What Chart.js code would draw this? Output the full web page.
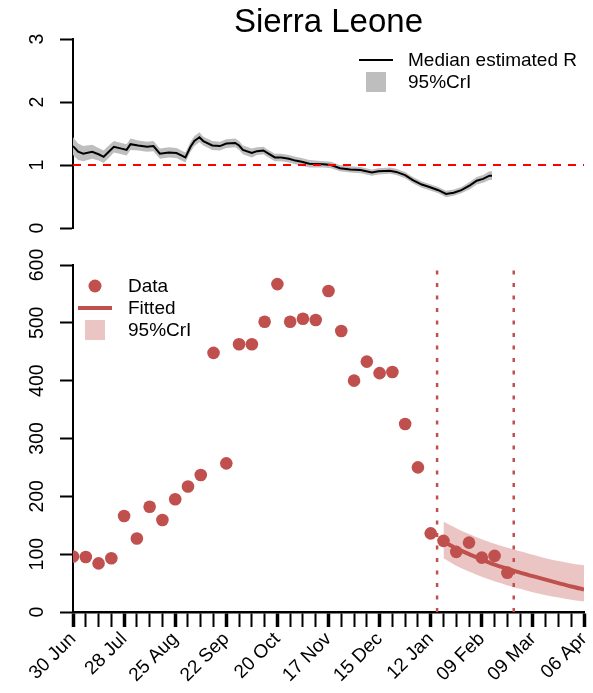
<!DOCTYPE html>
<html>
<head>
<meta charset="utf-8">
<title>Sierra Leone</title>
<script src="https://cdn.jsdelivr.net/npm/chart.js"></script>
<style>
  body { margin: 0; background: #fff; }
  .wrap { position: relative; width: 593px; height: 693px; }
  .wrap canvas { position: absolute; left: 0; }
  #rChart { top: 0; }
  #caseChart { top: 240px; }
</style>
</head>
<body>
<div class="wrap">
  <canvas id="rChart" width="593" height="240"></canvas>
  <canvas id="caseChart" width="593" height="453"></canvas>
</div>
<script>
const chartTitle = 'Sierra Leone';
// one label every 4 weeks, weeks counted from 30 Jun
const weekLabels = ['30 Jun', '28 Jul', '25 Aug', '22 Sep', '20 Oct', '17 Nov', '15 Dec', '12 Jan', '09 Feb', '09 Mar', '06 Apr'];

// estimated R (x in weeks)
const rWeeks = [0.0, 0.4, 0.8, 1.5, 2.0, 2.4, 2.8, 3.2, 3.8, 4.2, 4.5, 5.1, 5.8, 6.3, 6.8, 7.5, 8.1, 8.4, 8.8, 9.2,
  9.5, 9.9, 10.2, 10.9, 11.5, 12.0, 12.7, 13.0, 13.3, 14.0, 14.4, 14.9, 15.3, 15.8, 16.3, 16.9, 17.4, 17.9, 18.5, 19.6,
  20.2, 20.9, 21.7, 22.5, 23.4, 23.9, 24.8, 25.3, 26.0, 26.6, 27.3, 27.9, 28.6, 29.2, 29.8, 30.4, 31.1, 31.6, 32.1, 32.6, 32.8];
const rMedian = [1.30, 1.21, 1.18, 1.21, 1.17, 1.13, 1.21, 1.29, 1.26, 1.24, 1.33, 1.31, 1.29, 1.30, 1.18, 1.20, 1.19, 1.16, 1.12, 1.29,
  1.38, 1.44, 1.38, 1.31, 1.30, 1.34, 1.35, 1.31, 1.24, 1.19, 1.22, 1.23, 1.18, 1.12, 1.12, 1.10, 1.07, 1.05, 1.02, 1.01,
  1.00, 0.95, 0.93, 0.92, 0.88, 0.90, 0.91, 0.89, 0.84, 0.76, 0.69, 0.65, 0.60, 0.54, 0.56, 0.60, 0.68, 0.75, 0.78, 0.83, 0.83];
const rUpper = [1.44, 1.34, 1.30, 1.32, 1.27, 1.23, 1.31, 1.38, 1.35, 1.33, 1.42, 1.39, 1.37, 1.38, 1.26, 1.28, 1.27, 1.24, 1.20, 1.37,
  1.46, 1.52, 1.45, 1.38, 1.37, 1.41, 1.42, 1.38, 1.31, 1.26, 1.28, 1.29, 1.24, 1.18, 1.18, 1.16, 1.13, 1.11, 1.08, 1.06,
  1.05, 1.00, 0.98, 0.97, 0.93, 0.95, 0.96, 0.94, 0.89, 0.81, 0.74, 0.70, 0.65, 0.59, 0.61, 0.65, 0.74, 0.81, 0.84, 0.90, 0.90];
const rLower = [1.16, 1.08, 1.06, 1.10, 1.07, 1.03, 1.11, 1.20, 1.17, 1.15, 1.24, 1.23, 1.21, 1.22, 1.10, 1.12, 1.11, 1.08, 1.04, 1.21,
  1.30, 1.36, 1.31, 1.24, 1.23, 1.27, 1.28, 1.24, 1.17, 1.12, 1.16, 1.17, 1.12, 1.06, 1.06, 1.04, 1.01, 0.99, 0.96, 0.96,
  0.95, 0.90, 0.88, 0.87, 0.83, 0.85, 0.86, 0.84, 0.79, 0.71, 0.64, 0.60, 0.55, 0.49, 0.51, 0.55, 0.62, 0.69, 0.72, 0.76, 0.76];
const rThreshold = [1, 1];

// weekly case counts
const caseWeeks = [0, 1, 2, 3, 4, 5, 6, 7, 8, 9, 10, 11, 12, 13, 14, 15, 16, 17, 18, 19, 20, 21, 22, 23, 24, 25, 26, 27, 28, 29, 30, 31, 32, 33, 34];
const caseCounts = [96, 95, 84, 93, 166, 127, 182, 159, 195, 217, 237, 448, 257, 463, 463, 502, 567, 502, 507, 505,
  555, 486, 400, 433, 413, 415, 325, 250, 136, 123, 104, 120, 94, 97, 68];

// projection
const fitWeeks = [29, 30, 31, 32, 33, 34, 35, 36, 37, 38, 39, 40];
const fitMedian = [122, 110, 100, 91, 82, 75, 68, 62, 56, 50, 44, 39];
const fitUpper = [156, 145, 135, 126, 118, 111, 105, 99, 93, 88, 84, 81];
const fitLower = [93, 80, 70, 61, 53, 46, 40, 34, 29, 25, 21, 18];

// dotted markers
const markerWeeks = [28.5, 34.5];
const markerRange = [0, 600];

const FONT = '"Liberation Sans", Arial, sans-serif';
const RED = '#C0504D';

const xy = (xs, ys) => xs.map((x, i) => ({ x: x, y: ys[i] }));

// rotated y tick labels, legend, title
const decor = {
  id: 'decor',
  afterDraw(chart, args, opts) {
    const ctx = chart.ctx;
    const ys = chart.scales.y;
    ctx.save();
    ctx.fillStyle = '#000';
    ctx.font = '19.5px ' + FONT;
    ctx.textAlign = 'center';
    ctx.textBaseline = 'alphabetic';
    ys.ticks.forEach(t => {
      ctx.save();
      ctx.translate(43, ys.getPixelForValue(t.value));
      ctx.rotate(-Math.PI / 2);
      ctx.fillText(String(t.value), 0, 0);
      ctx.restore();
    });

    if (opts.title) {
      ctx.font = '33px ' + FONT;
      ctx.textAlign = 'center';
      ctx.fillText(opts.title, (chart.chartArea.left + chart.chartArea.right) / 2, 32);
    }

    const lg = opts.legend;
    ctx.font = '19px ' + FONT;
    ctx.textAlign = 'left';
    ctx.textBaseline = 'middle';
    lg.items.forEach((it, i) => {
      const cy = lg.y + i * lg.gap;
      if (it.kind === 'line') {
        ctx.strokeStyle = it.color;
        ctx.lineWidth = it.width;
        ctx.beginPath();
        ctx.moveTo(lg.x - 17, cy);
        ctx.lineTo(lg.x + 17, cy);
        ctx.stroke();
      } else if (it.kind === 'box') {
        ctx.fillStyle = it.color;
        ctx.fillRect(lg.x - 10, cy - 10, 20, 20);
      } else {
        ctx.fillStyle = it.color;
        ctx.beginPath();
        ctx.arc(lg.x, cy, 6.5, 0, Math.PI * 2);
        ctx.fill();
      }
      ctx.fillStyle = '#000';
      ctx.fillText(it.label, lg.textX, cy + 1);
    });
    ctx.restore();
  }
};

const yAxis = (max, step) => ({
  min: 0,
  max: max,
  ticks: { display: false, stepSize: step },
  grid: { drawOnChartArea: false, tickLength: 13, tickWidth: 2, tickColor: '#000' },
  border: { display: true, color: '#000', width: 2 },
  afterFit: s => { s.width = 73; }
});

new Chart(document.getElementById('rChart'), {
  type: 'line',
  data: {
    datasets: [
      { label: 'R = 1', data: xy([0, 40], rThreshold), borderColor: '#FF0000', borderWidth: 2, borderDash: [8, 7], pointRadius: 0 },
      { label: 'Median estimated R', data: xy(rWeeks, rMedian), borderColor: '#000', borderWidth: 2, pointRadius: 0, tension: 0 },
      { label: '95%CrI', data: xy(rWeeks, rUpper), borderWidth: 0, pointRadius: 0, backgroundColor: '#BEBEBE', fill: 3 },
      { label: 'lower', data: xy(rWeeks, rLower), borderWidth: 0, pointRadius: 0 }
    ]
  },
  options: {
    responsive: false,
    animation: false,
    layout: { padding: { top: 39, bottom: 12, right: 9, left: 0 } },
    scales: {
      x: { type: 'linear', min: 0, max: 40, display: false },
      y: yAxis(3, 1)
    },
    plugins: {
      legend: { display: false },
      tooltip: { enabled: false },
      decor: {
        title: chartTitle,
        legend: {
          x: 376, textX: 408, y: 60, gap: 22,
          items: [
            { kind: 'line', color: '#000', width: 2, label: 'Median estimated R' },
            { kind: 'box', color: '#BEBEBE', label: '95%CrI' }
          ]
        }
      }
    }
  },
  plugins: [decor]
});

new Chart(document.getElementById('caseChart'), {
  type: 'line',
  data: {
    datasets: [
      { label: 'Data', data: xy(caseWeeks, caseCounts), showLine: false, pointRadius: 6.3, pointBorderWidth: 0,
        pointBackgroundColor: RED, borderColor: RED, clip: 0 },
      { label: 'm1', data: xy([markerWeeks[0], markerWeeks[0]], markerRange), borderColor: RED, borderWidth: 2.5,
        borderDash: [4, 8.5], pointRadius: 0 },
      { label: 'm2', data: xy([markerWeeks[1], markerWeeks[1]], markerRange), borderColor: RED, borderWidth: 2.5,
        borderDash: [4, 8.5], pointRadius: 0 },
      { label: 'Fitted', data: xy(fitWeeks, fitMedian), borderColor: RED, borderWidth: 4, pointRadius: 0, tension: 0.3 },
      { label: '95%CrI', data: xy(fitWeeks, fitUpper), borderWidth: 0, pointRadius: 0, tension: 0.3,
        backgroundColor: 'rgba(192,80,77,0.33)', fill: 5 },
      { label: 'lower', data: xy(fitWeeks, fitLower), borderWidth: 0, pointRadius: 0, tension: 0.3 }
    ]
  },
  options: {
    responsive: false,
    animation: false,
    layout: { padding: { top: 25, bottom: 0, right: 9, left: 0 } },
    scales: {
      x: {
        type: 'linear',
        min: 0,
        max: 40,
        ticks: {
          stepSize: 1,
          autoSkip: false,
          minRotation: 45,
          maxRotation: 45,
          padding: 1,
          color: '#000',
          font: { family: FONT, size: 19 },
          callback: v => (v % 4 === 0 ? weekLabels[v / 4] : '')
        },
        grid: {
          drawOnChartArea: false,
          tickLength: 15,
          tickColor: '#000',
          tickWidth: c => (c.tick && c.tick.value % 4 === 0 ? 3.5 : 2)
        },
        border: { display: true, color: '#000', width: 2.5 },
        afterFit: s => { s.height = 81; s.paddingLeft = 0; s.paddingRight = 0; }
      },
      y: yAxis(600, 100)
    },
    plugins: {
      legend: { display: false },
      tooltip: { enabled: false },
      decor: {
        legend: {
          x: 95, textX: 128, y: 46, gap: 22,
          items: [
            { kind: 'dot', color: RED, label: 'Data' },
            { kind: 'line', color: RED, width: 4, label: 'Fitted' },
            { kind: 'box', color: 'rgba(192,80,77,0.33)', label: '95%CrI' }
          ]
        }
      }
    }
  },
  plugins: [decor]
});
</script>
</body>
</html>
